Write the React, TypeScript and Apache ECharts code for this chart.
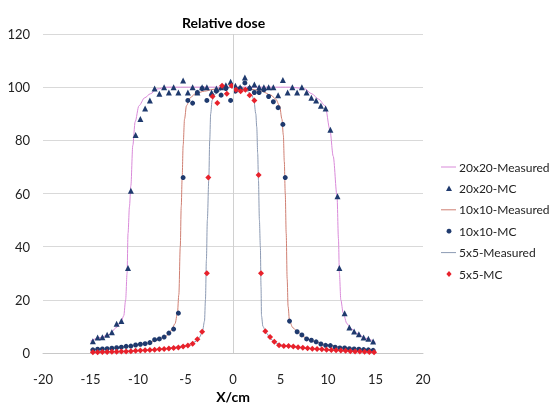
import React, { useEffect, useRef } from "react";
import * as echarts from "echarts";

const xTicks = [-20, -15, -10, -5, 0, 5, 10, 15, 20];

const legendNames = ["20x20-Measured", "20x20-MC", "10x10-Measured", "10x10-MC", "5x5-Measured", "5x5-MC"];

const meas20: number[][] = [
  [-15, 4.5], [-14, 5.8], [-13, 7], [-12.3, 9.5], [-11.8, 11.5], [-11.5, 14], [-11.3, 20], [-11.15, 30],
  [-11.05, 45], [-10.9, 55], [-10.75, 63], [-10.55, 78], [-10.3, 87], [-9.9, 93], [-9.3, 96], [-8.7, 97.5],
  [-8, 99.3], [-7, 100], [-4, 100], [0, 100], [4, 100], [6, 100], [7.5, 99.5], [8.3, 97.5], [9, 95.5],
  [9.7, 93], [10.2, 84], [10.55, 74], [10.95, 59], [11.1, 43], [11.2, 30], [11.35, 20], [11.6, 15],
  [12, 11], [12.5, 9], [13, 7.5], [14, 5.5], [15, 4],
];

const mc20: number[][] = [
  [-14.75, 4.4], [-14.25, 5.8], [-13.75, 5.9], [-13.25, 6.9], [-12.75, 7.8], [-12.25, 11], [-11.75, 12],
  [-11.05, 32], [-10.75, 61], [-10.25, 82], [-9.75, 88], [-9.25, 92], [-8.75, 95], [-8.25, 99.5],
  [-7.75, 97.5], [-7.25, 100], [-6.75, 98], [-6.25, 100], [-5.75, 98], [-5.25, 102.5], [-4.75, 98],
  [-4.25, 100], [-3.75, 98], [-3.25, 100], [-2.75, 100], [-2.25, 98], [-1.75, 99.5], [-1.25, 100],
  [-0.75, 100.7], [-0.25, 102], [0.25, 100.5], [0.75, 100], [1.25, 103.6], [1.75, 100], [2.25, 101],
  [2.75, 100], [3.25, 100], [3.75, 100], [4.25, 100], [4.75, 97], [5.25, 102.7], [5.75, 98], [6.25, 100],
  [6.75, 98], [7.25, 100], [7.75, 98], [8.25, 96], [8.75, 95], [9.25, 93], [9.75, 92], [10.25, 84],
  [11.0, 59], [11.2, 32], [11.75, 15], [12.25, 9.6], [12.75, 8.1], [13.25, 7.1], [13.75, 5.8],
  [14.25, 5.4], [14.75, 4.3],
];

const meas10: number[][] = [
  [-15, 1.2], [-13, 1.6], [-11, 2.5], [-9, 3.7], [-8, 4.8], [-7, 6.5], [-6.5, 8.5], [-6.1, 11],
  [-5.85, 15], [-5.7, 22], [-5.55, 40], [-5.45, 55], [-5.35, 66], [-5.25, 78], [-5.1, 88], [-4.9, 93],
  [-4.5, 96], [-4, 97.5], [-3, 98.5], [-2, 99.2], [-1, 99.7], [0, 100], [1, 99.7], [2, 99.2], [3, 98.5],
  [4, 97], [4.5, 95.5], [4.9, 93], [5.15, 88], [5.3, 82], [5.4, 72], [5.5, 60], [5.6, 45], [5.7, 28],
  [5.8, 17.5], [5.95, 12], [6.3, 9.5], [6.8, 8], [7.5, 6], [8.5, 4.3], [10, 3], [12, 1.8], [15, 1.0],
];

const mc10: number[][] = [
  [-14.75, 1.2], [-14.25, 1.4], [-13.75, 1.5], [-13.25, 1.6], [-12.75, 1.8], [-12.25, 2.0], [-11.75, 2.2],
  [-11.25, 2.5], [-10.75, 2.6], [-10.25, 3.0], [-9.75, 3.3], [-9.25, 3.5], [-8.75, 3.9], [-8.25, 5.0],
  [-7.75, 5.3], [-7.25, 6.0], [-6.75, 7.5], [-6.25, 9], [-5.75, 15], [-5.25, 66], [-4.75, 95],
  [-4.25, 94], [-3.75, 98], [-3.25, 99.5], [-2.75, 95], [-2.25, 97], [-1.75, 98.5], [-1.25, 97],
  [-0.75, 99.5], [-0.25, 95], [0.25, 98.5], [0.75, 99.5], [1.25, 101.6], [1.75, 99.5], [2.25, 98],
  [2.75, 98], [3.25, 99], [3.75, 96.5], [4.25, 94.5], [4.75, 92.3], [5.25, 86], [5.5, 66], [5.95, 12],
  [6.75, 8], [7.25, 6.8], [7.75, 5.3], [8.25, 4.8], [8.75, 4.2], [9.25, 3.4], [9.75, 2.9], [10.25, 2.8],
  [10.75, 2.2], [11.25, 1.9], [11.75, 1.9], [12.25, 1.6], [12.75, 1.5], [13.25, 1.4], [13.75, 1.3],
  [14.25, 1.2], [14.75, 1.0],
];

const meas5: number[][] = [
  [-15, 0.4], [-12, 0.6], [-9, 1.1], [-7, 1.7], [-5, 2.7], [-4, 4.2], [-3.5, 6], [-3.2, 8.5], [-3.0, 12],
  [-2.9, 20], [-2.8, 35], [-2.7, 50], [-2.55, 65], [-2.45, 80], [-2.35, 90], [-2.2, 95], [-2, 97],
  [-1.5, 98.5], [-1, 99.5], [0, 100], [1, 99.5], [1.5, 98.5], [2, 97], [2.2, 95], [2.4, 90], [2.5, 85],
  [2.6, 75], [2.68, 65], [2.78, 50], [2.88, 40], [2.95, 25], [3.0, 14], [3.15, 10], [3.5, 7.5], [4, 5.2],
  [4.5, 3.8], [5, 3.0], [6, 2.4], [8, 1.7], [10, 1.2], [12, 0.8], [15, 0.4],
];

const mc5: number[][] = [
  [-14.75, 0.3], [-14.25, 0.3], [-13.75, 0.4], [-13.25, 0.4], [-12.75, 0.5], [-12.25, 0.5], [-11.75, 0.6],
  [-11.25, 0.6], [-10.75, 0.7], [-10.25, 0.8], [-9.75, 0.9], [-9.25, 1.0], [-8.75, 1.1], [-8.25, 1.2],
  [-7.75, 1.4], [-7.25, 1.5], [-6.75, 1.7], [-6.25, 1.9], [-5.75, 2.1], [-5.25, 2.4], [-4.75, 2.8],
  [-4.25, 3.5], [-3.75, 5.2], [-3.25, 8], [-2.75, 30], [-2.6, 66], [-2.15, 96.5], [-1.65, 94],
  [-1.15, 100.5], [-0.65, 97.5], [-0.15, 100.5], [0.3, 99], [0.8, 98.5], [1.3, 99], [1.75, 97],
  [2.25, 95], [2.7, 67], [2.95, 30], [3.4, 8.2], [3.9, 6], [4.35, 4.2], [4.85, 2.9], [5.35, 2.6],
  [5.85, 2.6], [6.35, 2.4], [6.85, 2.2], [7.35, 2.0], [7.85, 1.8], [8.35, 1.6], [8.85, 1.5], [9.35, 1.4],
  [9.85, 1.2], [10.35, 1.1], [10.85, 1.0], [11.35, 0.9], [11.85, 0.8], [12.35, 0.7], [12.85, 0.6],
  [13.35, 0.6], [13.85, 0.5], [14.35, 0.4], [14.85, 0.3],
];

const FONT = "Lato, 'Open Sans', sans-serif";
const NAVY = "#1f3a6e";
const RED = "#e8212b";
const PINK = "#d98ad9";
const BROWN = "#cf7f72";
const GREYBLUE = "#8c9ab3";

export default function App() {
  const ref = useRef<HTMLDivElement>(null);
  useEffect(() => {
    const chart = echarts.init(ref.current!, null, { renderer: "svg" });
    const lineSeries = (name: string, data: number[][], color: string) => ({
      name,
      type: "line",
      data,
      smooth: 0.3,
      smoothMonotone: "x",
      showSymbol: false,
      symbol: "none",
      lineStyle: { color, width: 1 },
      itemStyle: { color },
      z: 2,
    });
    const scatterSeries = (name: string, data: number[][], symbol: string, size: number, color: string) => ({
      name,
      type: "scatter",
      data,
      symbol,
      symbolSize: size,
      itemStyle: { color, opacity: 1 },
      z: 3,
    });

    // custom legend
    const lx = 441;
    const ly0 = 167;
    const lstep = 21.4;
    const legendGraphics: any[] = [];
    legendNames.forEach((name, i) => {
      const y = ly0 + i * lstep;
      if (i % 2 === 0) {
        const c = i === 0 ? PINK : i === 2 ? BROWN : GREYBLUE;
        legendGraphics.push({
          type: "line",
          shape: { x1: lx, y1: y, x2: lx + 15, y2: y },
          style: { stroke: c, lineWidth: 1 },
          silent: true,
        });
      } else if (i === 1) {
        legendGraphics.push({
          type: "polygon",
          shape: { points: [[449, y - 3], [452, y + 2.5], [446, y + 2.5]] },
          style: { fill: NAVY },
          silent: true,
        });
      } else if (i === 3) {
        legendGraphics.push({
          type: "circle",
          shape: { cx: 449, cy: y, r: 2.4 },
          style: { fill: NAVY },
          silent: true,
        });
      } else {
        legendGraphics.push({
          type: "polygon",
          shape: { points: [[449, y - 3], [451.6, y], [449, y + 3], [446.4, y]] },
          style: { fill: RED },
          silent: true,
        });
      }
      legendGraphics.push({
        type: "text",
        x: 459,
        y,
        style: {
          text: name,
          fontFamily: FONT,
          fontSize: 12,
          fill: "#222",
          textVerticalAlign: "middle",
          verticalAlign: "middle",
        },
        silent: true,
      });
    });

    chart.setOption({
      animation: false,
      title: {
        text: "Relative dose",
        left: 177,
        top: 10,
        textStyle: { fontFamily: FONT, fontSize: 14, fontWeight: "bold", color: "#000" },
      },
      grid: { left: 43, right: 135, top: 34, bottom: 52, outerBoundsMode: "none", containLabel: false },
      xAxis: {
        type: "value",
        min: -20,
        max: 20,
        interval: 5,
        name: "X/cm",
        nameLocation: "middle",
        nameGap: 35,
        nameTextStyle: { fontFamily: FONT, fontSize: 14, fontWeight: "bold", color: "#000" },
        axisLine: { show: true, onZero: false, lineStyle: { color: "#c8c8c8" } },
        axisTick: { show: false },
        splitLine: { show: false },
        axisLabel: { fontFamily: FONT, fontSize: 13, color: "#222", margin: 19 },
      },
      yAxis: {
        type: "value",
        min: 0,
        max: 120,
        interval: 20,
        axisLine: { show: false },
        axisTick: { show: false },
        splitLine: { show: true, lineStyle: { color: "#d9d9d9", width: 1 } },
        axisLabel: { fontFamily: FONT, fontSize: 13, color: "#222", margin: 13 },
      },
      graphic: legendGraphics,
      series: [
        {
          ...lineSeries(legendNames[0], meas20, PINK),
          markLine: {
            silent: true,
            symbol: "none",
            label: { show: false },
            lineStyle: { color: "#d0d0d0", width: 1, type: "solid" },
            data: [{ xAxis: xTicks[4] }],
          },
        },
        scatterSeries(legendNames[1], mc20, "triangle", 6, NAVY),
        lineSeries(legendNames[2], meas10, BROWN),
        scatterSeries(legendNames[3], mc10, "circle", 5, NAVY),
        lineSeries(legendNames[4], meas5, GREYBLUE),
        scatterSeries(legendNames[5], mc5, "diamond", 6, RED),
      ],
    });
    return () => chart.dispose();
  }, []);
  return <div ref={ref} style={{ position: "fixed", left: 0, top: 0, width: 558, height: 405 }} />;
}
